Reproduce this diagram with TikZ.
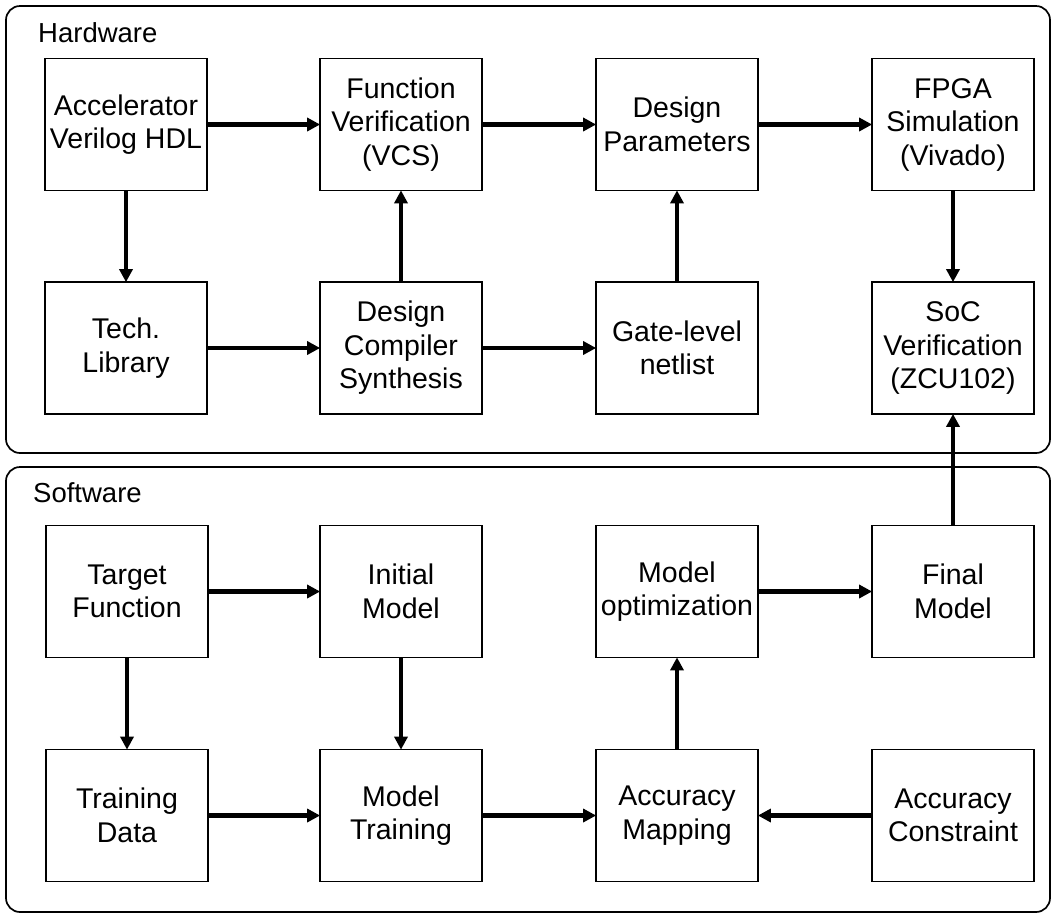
\documentclass[tikz,border=0pt]{standalone}
\usepackage{fontspec}
\setmainfont{Liberation Sans}
\usetikzlibrary{arrows.meta}
\begin{document}
\begin{tikzpicture}[x=1pt,y=-1pt,
  every node/.style={font=\fontsize{28.5}{33.5}\selectfont},
  stagebox/.style={draw, line width=1.7pt, minimum width=162pt, minimum height=132pt,
    inner sep=0pt, align=center},
  frame/.style={draw, line width=1.7pt, rounded corners=14pt},
  flow/.style={line width=4.5pt, -{Triangle[length=13pt,width=13pt]}, shorten >=-1pt},
  grouplabel/.style={anchor=base west, inner sep=0pt, font=\fontsize{27.5}{33}\selectfont}]
\useasboundingbox (0,0) rectangle (1052,914);

% group frames
\draw[frame] (6,6) rectangle (1050,453);
\draw[frame] (6,467) rectangle (1050,912);
\node[grouplabel] (hwlabel) at (38,42) {Hardware};
\node[grouplabel] (swlabel) at (33,502) {Software};

% hardware stages
\node[stagebox] (acc)  at (126,124.5) {Accelerator\\Verilog HDL};
\node[stagebox] (fv)   at (401,124.5) {Function\\Verification\\(VCS)};
\node[stagebox] (dp)   at (677,124.5) {Design\\Parameters};
\node[stagebox] (fpga) at (953,124.5) {FPGA\\Simulation\\(Vivado)};
\node[stagebox] (tech) at (126,348) {Tech.\\Library};
\node[stagebox] (dc)   at (401,348) {Design\\Compiler\\Synthesis};
\node[stagebox] (gate) at (677,348) {Gate-level\\netlist};
\node[stagebox] (soc)  at (953,348) {SoC\\Verification\\(ZCU102)};

% software stages
\node[stagebox] (tf)   at (127,591.5) {Target\\Function};
\node[stagebox] (im)   at (401,591.5) {Initial\\Model};
\node[stagebox] (mo)   at (677,591.5) {Model\\optimization};
\node[stagebox] (fm)   at (953,591.5) {Final\\Model};
\node[stagebox] (td)   at (127,815.5) {Training\\Data};
\node[stagebox] (mt)   at (401,815.5) {Model\\Training};
\node[stagebox] (am)   at (677,815.5) {Accuracy\\Mapping};
\node[stagebox] (ac)   at (953,815.5) {Accuracy\\Constraint};

% hardware flow
\draw[flow] (acc) -- (fv);
\draw[flow] (fv) -- (dp);
\draw[flow] (dp) -- (fpga);
\draw[flow] (acc) -- (tech);
\draw[flow] (tech) -- (dc);
\draw[flow] (dc) -- (fv);
\draw[flow] (dc) -- (gate);
\draw[flow] (gate) -- (dp);
\draw[flow] (fpga) -- (soc);

% software flow
\draw[flow] (tf) -- (im);
\draw[flow] (mo) -- (fm);
\draw[flow] (tf) -- (td);
\draw[flow] (im) -- (mt);
\draw[flow] (td) -- (mt);
\draw[flow] (mt) -- (am);
\draw[flow] (am) -- (mo);
\draw[flow] (ac) -- (am);
\draw[flow] (fm) -- (soc);
\end{tikzpicture}
\end{document}
